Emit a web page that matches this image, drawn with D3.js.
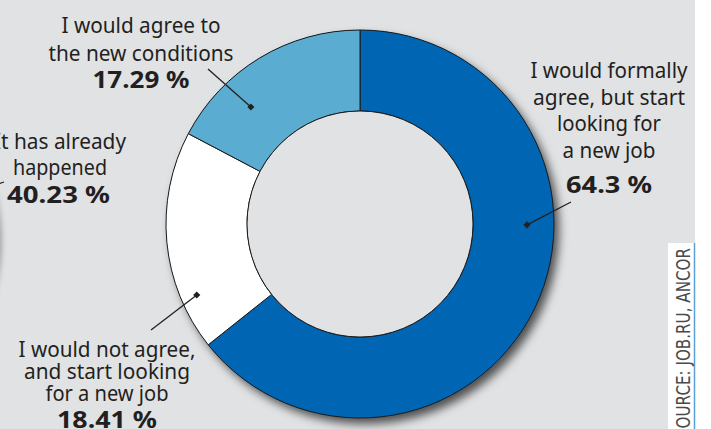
<!DOCTYPE html>
<html><head><meta charset="utf-8">
<script src="https://cdn.jsdelivr.net/npm/d3@7"></script>
<style>html,body{margin:0;padding:0;background:#fff;}svg{display:block;}</style>
</head><body><svg id="chart" width="711" height="429"></svg>
<script>
// ---- data ----
const categories = [
  "I would formally agree, but start looking for a new job",
  "I would not agree, and start looking for a new job",
  "I would agree to the new conditions"
];
const values = [64.3, 18.41, 17.29];
const labelLines = [
  ["I would formally", "agree, but start", "looking for", "a new job"],
  ["I would not agree,", "and start looking", "for a new job"],
  ["I would agree to", "the new conditions"]
];
const valueLabels = ["64.3 %", "18.41 %", "17.29 %"];
const neighbourLines = ["It has already", "happened"];
const neighbourValue = "40.23 %";
const sourceText = "SOURCE: JOB.RU, ANCOR";

// ---- styles / layout ----
const colors = ["#0065b2", "#ffffff", "#5aadd0"];
const bg = "#e1e2e4";
const ink = "#231f20";
const W = 711, H = 429;
const cx = 360, cy = 224, R = 194, r = 113;
const layout = [
  {x: 609, base: 78, step: 26.5, valBase: 193, widths: [157, 152, 104, 93], valW: 86,
   dotAngle: 90.3, dotR: 167, lineEnd: [571, 202]},
  {x: 107, base: 357, step: 22, valBase: 428, widths: [177, 166, 123], valW: 100,
   dotAngle: 246.5, dotR: 178, lineEnd: [151, 330]},
  {x: 141, base: 33, step: 27.5, valBase: 88, widths: [159, 185], valW: 97,
   dotAngle: 317, dotR: 160, lineEnd: [208, 69]}
];

const svg = d3.select("#chart");
const defs = svg.append("defs");
const f = defs.append("filter").attr("id", "sh").attr("x", "-20%").attr("y", "-20%").attr("width", "150%").attr("height", "150%");
f.append("feDropShadow").attr("dx", 5).attr("dy", 6).attr("stdDeviation", 5)
  .attr("flood-color", "#000").attr("flood-opacity", 0.65);
const f2 = defs.append("filter").attr("id", "sh2").attr("x", "-20%").attr("y", "-20%").attr("width", "150%").attr("height", "150%");
f2.append("feDropShadow").attr("dx", 3).attr("dy", 3).attr("stdDeviation", 3)
  .attr("flood-color", "#000").attr("flood-opacity", 0.35);

svg.append("rect").attr("width", W).attr("height", H).attr("fill", "#ffffff");
svg.append("rect").attr("width", 695).attr("height", H).attr("fill", bg);

// neighbouring (cropped) chart edge at far left
svg.append("circle").attr("cx", -196).attr("cy", 238).attr("r", 194)
  .attr("fill", bg).attr("filter", "url(#sh2)");
svg.append("line").attr("x1", -2).attr("y1", 184).attr("x2", 4).attr("y2", 182)
  .attr("stroke", ink).attr("stroke-width", 1.2);

const g = svg.append("g").attr("transform", `translate(${cx},${cy})`);
g.append("circle").attr("r", R).attr("fill", colors[0]).attr("filter", "url(#sh)");

const pie = d3.pie().sort(null).value(d => d);
const arcs = pie(values);
const arc = d3.arc().innerRadius(r).outerRadius(R);
g.selectAll("path.seg").data(arcs).join("path").attr("class", "seg")
  .attr("d", arc).attr("fill", (d, i) => colors[i])
  .attr("stroke", "#1a1a1a").attr("stroke-width", 1);
g.append("circle").attr("r", r).attr("fill", bg).attr("stroke", "#1a1a1a").attr("stroke-width", 1);

// leader lines + dots
const polar = (deg, rad) => {
  const a = deg * Math.PI / 180;
  return [cx + rad * Math.sin(a), cy - rad * Math.cos(a)];
};
layout.forEach((L, i) => {
  const p = polar(L.dotAngle, L.dotR);
  svg.append("line").attr("x1", L.lineEnd[0]).attr("y1", L.lineEnd[1])
    .attr("x2", p[0]).attr("y2", p[1]).attr("stroke", ink).attr("stroke-width", 1.3);
  svg.append("rect").attr("x", p[0] - 2.5).attr("y", p[1] - 2.5).attr("width", 5).attr("height", 5)
    .attr("fill", ink).attr("transform", `rotate(45 ${p[0]} ${p[1]})`);
});

// labels
const font = "'Noto Sans', 'Open Sans', sans-serif";
layout.forEach((L, i) => {
  const t = svg.append("g");
  labelLines[i].forEach((s, j) => {
    t.append("text").attr("x", L.x).attr("y", L.base + j * L.step)
      .attr("text-anchor", "middle").attr("font-family", font).attr("font-size", 21)
      .attr("fill", ink).attr("textLength", L.widths[j]).attr("lengthAdjust", "spacingAndGlyphs")
      .text(s);
  });
  t.append("text").attr("x", L.x).attr("y", L.valBase)
    .attr("text-anchor", "middle").attr("font-family", font).attr("font-size", 24)
    .attr("font-weight", "bold").attr("fill", ink)
    .attr("textLength", L.valW).attr("lengthAdjust", "spacingAndGlyphs")
    .text(valueLabels[i]);
});

// neighbour chart labels (cropped)
const nW = [132, 94];
const nBase = [149, 175];
neighbourLines.forEach((s, j) => {
  svg.append("text").attr("x", 60).attr("y", nBase[j]).attr("text-anchor", "middle")
    .attr("font-family", font).attr("font-size", 21).attr("fill", ink)
    .attr("textLength", nW[j]).attr("lengthAdjust", "spacingAndGlyphs").text(s);
});
svg.append("text").attr("x", 58.5).attr("y", 203).attr("text-anchor", "middle")
  .attr("font-family", font).attr("font-size", 24).attr("font-weight", "bold").attr("fill", ink)
  .attr("textLength", 103).attr("lengthAdjust", "spacingAndGlyphs").text(neighbourValue);

// source strip
svg.append("rect").attr("x", 668).attr("y", 243).attr("width", 27).attr("height", H - 243).attr("fill", "#ffffff");
svg.append("line").attr("x1", 694.5).attr("y1", 243).attr("x2", 694.5).attr("y2", H)
  .attr("stroke", "#5b9fd6").attr("stroke-width", 1.5);
svg.append("text").attr("transform", "translate(690,248) rotate(-90)")
  .attr("text-anchor", "end").attr("font-family", "'DejaVu Sans', sans-serif")
  .attr("font-size", 19).attr("fill", "#4a4a4a")
  .attr("textLength", 190).attr("lengthAdjust", "spacingAndGlyphs").text(sourceText);
</script></body></html>
